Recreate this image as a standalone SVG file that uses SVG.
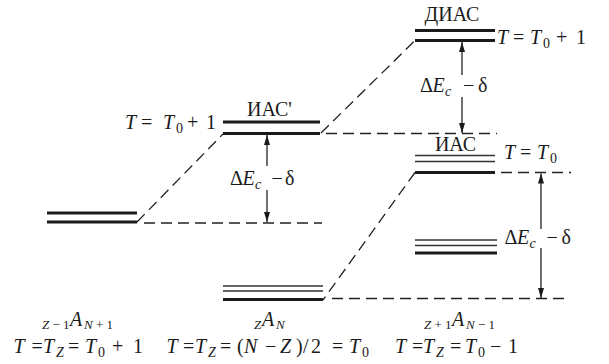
<svg xmlns="http://www.w3.org/2000/svg" width="609" height="364" viewBox="0 0 609 364">
<defs>
<marker id="ah" viewBox="0 0 10 6" refX="10" refY="3" markerWidth="10" markerHeight="6" markerUnits="userSpaceOnUse" orient="auto">
<path d="M0,0 L10,3 L0,6 z" fill="#1a1a1a"/>
</marker>
</defs>
<style>
.t{font-family:"Liberation Serif","Times New Roman",serif;font-size:20px;fill:#1a1a1a}
.i{font-style:italic}
.s{font-size:14px}
.ss{font-size:13px}
.thick{stroke:#1a1a1a;stroke-width:2.8;fill:none}
.thin{stroke:#333;stroke-width:1.4;fill:none}
.dash{stroke:#222;stroke-width:1.3;stroke-dasharray:11 6;fill:none}
.arr{stroke:#222;stroke-width:1.3;fill:none;marker-end:url(#ah)}
</style>
<rect width="609" height="364" fill="#fff"/>

<g id="connectors">
<line class="dash" x1="137" y1="222" x2="223" y2="134"/>
<line class="dash" x1="144" y1="223" x2="322" y2="223"/>
<line class="dash" x1="321" y1="133" x2="415" y2="40.5"/>
<line class="dash" x1="326" y1="133.5" x2="497" y2="133.5"/>
<line class="dash" x1="415" y1="172.5" x2="323" y2="300"/>
<line class="dash" x1="332" y1="298.5" x2="567" y2="298.5"/>
<line class="dash" x1="501" y1="172.5" x2="571" y2="172.5"/>
<line class="arr" x1="267" y1="166" x2="267" y2="135"/>
<line class="arr" x1="267" y1="190" x2="267" y2="222"/>
<line class="arr" x1="462" y1="75" x2="462" y2="42"/>
<line class="arr" x1="462" y1="97" x2="462" y2="133"/>
<line class="arr" x1="541" y1="229" x2="541" y2="173.5"/>
<line class="arr" x1="541" y1="248" x2="541" y2="298"/>
</g>

<g id="level-left">
<line class="thick" x1="47" y1="213" x2="137" y2="213"/>
<line class="thick" x1="47" y1="222" x2="137" y2="222"/>
</g>

<g id="level-IAS-prime">
<line class="thick" x1="223" y1="122" x2="320" y2="122"/>
<line class="thick" x1="223" y1="133.5" x2="320" y2="133.5"/>
<text class="t" x="247" y="116">ИАС'</text>
<text class="t" y="129"><tspan x="125" class="i">T</tspan><tspan x="141">=</tspan><tspan x="163" class="i">T</tspan><tspan x="176" dy="4" class="s">0</tspan><tspan x="187" dy="-4">+</tspan><tspan x="206">1</tspan></text>
</g>

<g id="level-DIAS">
<line class="thick" x1="415" y1="30.5" x2="495" y2="30.5"/>
<line class="thick" x1="415" y1="40.5" x2="495" y2="40.5"/>
<text class="t" x="452" y="21" text-anchor="middle">ДИАС</text>
<text class="t" y="43.5"><tspan x="497" class="i">T</tspan><tspan x="513">=</tspan><tspan x="530" class="i">T</tspan><tspan x="543" dy="4" class="s">0</tspan><tspan x="556" dy="-4">+</tspan><tspan x="576">1</tspan></text>
</g>

<g id="level-IAS">
<line class="thin" x1="415" y1="155.5" x2="495" y2="155.5"/>
<line class="thin" x1="415" y1="161.5" x2="495" y2="161.5"/>
<line class="thick" x1="415" y1="172.5" x2="495" y2="172.5"/>
<text class="t" x="455.5" y="151" text-anchor="middle">ИАС</text>
<text class="t" y="159"><tspan x="504" class="i">T</tspan><tspan x="520">=</tspan><tspan x="537" class="i">T</tspan><tspan x="550" dy="4" class="s">0</tspan></text>
</g>

<g id="level-ZAN">
<line class="thin" x1="223" y1="286" x2="323" y2="286"/>
<line class="thin" x1="223" y1="291" x2="323" y2="291"/>
<line class="thick" x1="223" y1="299.5" x2="323" y2="299.5"/>
</g>

<g id="level-right-mid">
<line class="thin" x1="415" y1="240" x2="497" y2="240"/>
<line class="thin" x1="415" y1="245.5" x2="497" y2="245.5"/>
<line class="thick" x1="415" y1="253" x2="497" y2="253"/>
</g>

<g id="labels-dE">
<text class="t" y="92"><tspan x="420">Δ</tspan><tspan x="432.5" class="i">E</tspan><tspan x="445" dy="4" class="s i">c</tspan><tspan x="463" dy="-4">−</tspan><tspan x="478">δ</tspan></text>
<text class="t" y="185"><tspan x="230">Δ</tspan><tspan x="242.5" class="i">E</tspan><tspan x="255" dy="4" class="s i">c</tspan><tspan x="271.5" dy="-4">−</tspan><tspan x="285">δ</tspan></text>
<text class="t" y="244"><tspan x="504.5">Δ</tspan><tspan x="517" class="i">E</tspan><tspan x="529.5" dy="4" class="s i">c</tspan><tspan x="546.5" dy="-4">−</tspan><tspan x="561.5">δ</tspan></text>
</g>

<g id="labels-nuclei">
<text class="t" y="326"><tspan x="42" dy="3" class="ss i">Z</tspan><tspan class="ss"> − 1</tspan><tspan x="70" dy="-3" class="i">A</tspan><tspan x="84" dy="3" class="ss i">N</tspan><tspan class="ss"> + 1</tspan></text>
<text class="t" y="326"><tspan x="254" dy="3" class="ss i">Z</tspan><tspan x="262" dy="-3" class="i">A</tspan><tspan x="276" dy="3" class="ss i">N</tspan></text>
<text class="t" y="326"><tspan x="424" dy="3" class="ss i">Z</tspan><tspan class="ss"> + 1</tspan><tspan x="452" dy="-3" class="i">A</tspan><tspan x="466" dy="3" class="ss i">N</tspan><tspan class="ss"> − 1</tspan></text>
</g>

<g id="labels-T">
<text class="t" y="353"><tspan x="13.5" class="i">T</tspan><tspan x="31.5">=</tspan><tspan x="43" class="i">T</tspan><tspan x="56" dy="4" class="s i">Z</tspan><tspan x="68" dy="-4">=</tspan><tspan x="85" class="i">T</tspan><tspan x="98" dy="4" class="s">0</tspan><tspan x="112" dy="-4">+</tspan><tspan x="133">1</tspan></text>
<text class="t" y="353"><tspan x="166.5" class="i">T</tspan><tspan x="183">=</tspan><tspan x="195" class="i">T</tspan><tspan x="208" dy="4" class="s i">Z</tspan><tspan x="220" dy="-4">=</tspan><tspan x="237">(</tspan><tspan x="244" class="i">N</tspan><tspan x="265">−</tspan><tspan x="280" class="i">Z</tspan><tspan x="296">)</tspan><tspan x="303">/</tspan><tspan x="311">2</tspan><tspan x="332">=</tspan><tspan x="349" class="i">T</tspan><tspan x="362" dy="4" class="s">0</tspan></text>
<text class="t" y="353"><tspan x="395" class="i">T</tspan><tspan x="412">=</tspan><tspan x="423" class="i">T</tspan><tspan x="436" dy="4" class="s i">Z</tspan><tspan x="450" dy="-4">=</tspan><tspan x="465" class="i">T</tspan><tspan x="478" dy="4" class="s">0</tspan><tspan x="490" dy="-4">−</tspan><tspan x="508">1</tspan></text>
</g>
</svg>
